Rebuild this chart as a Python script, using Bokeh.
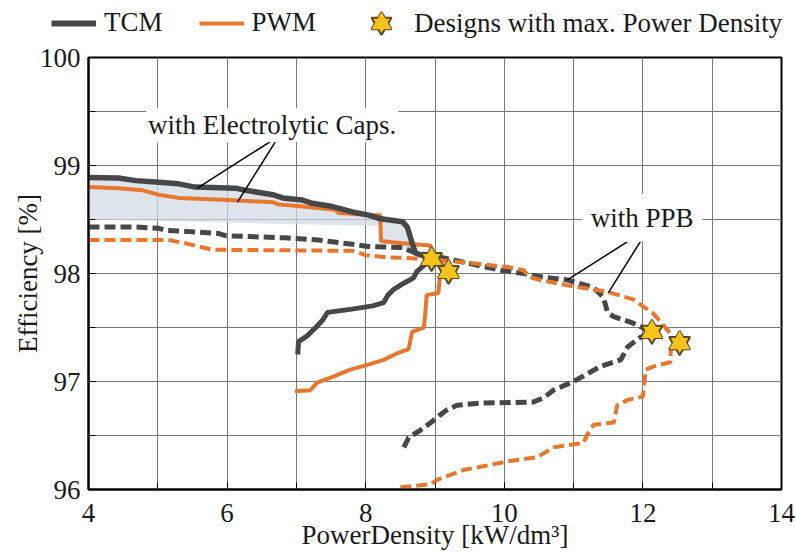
from bokeh.plotting import figure
from bokeh.models import FixedTicker, Label, Legend, LegendItem, Range1d
from bokeh.embed import file_html
from bokeh.resources import INLINE

FONT = "Liberation Serif"
TCM_COLOR = "#474747"
PWM_COLOR = "#e8772e"
STAR_FILL = "#f7c31c"
STAR_LINE = "#5a4a20"
TEXT_COLOR = "#1a1a1a"

# --- data: power density [kW/dm^3] vs efficiency [%] ---
# TCM, electrolytic capacitors (upper solid branch)
tcm_ec_x = [4.0, 4.43, 4.68, 4.92, 5.30, 5.54, 6.12, 6.27, 6.66, 6.80, 7.09, 7.23, 7.52,
            7.81, 8.04, 8.19, 8.53, 8.60, 8.68, 8.72, 8.95]
tcm_ec_y = [98.89, 98.885, 98.86, 98.85, 98.83, 98.80, 98.79, 98.77, 98.73, 98.70, 98.68,
            98.65, 98.62, 98.57, 98.54, 98.51, 98.48, 98.43, 98.26, 98.19, 98.134]
# TCM, electrolytic capacitors (lower solid branch)
tcm_ec_lo_x = [7.02, 7.03, 7.15, 7.28, 7.38, 7.45, 7.80, 8.10, 8.26, 8.32, 8.40, 8.55,
               8.69, 8.74, 8.95]
tcm_ec_lo_y = [97.25, 97.37, 97.42, 97.50, 97.57, 97.64, 97.67, 97.70, 97.73, 97.80,
               97.85, 97.91, 97.96, 98.02, 98.134]
# PWM, electrolytic capacitors (upper solid branch)
pwm_ec_x = [4.0, 4.43, 4.78, 5.01, 5.30, 6.02, 6.66, 6.74, 7.09, 7.56, 7.61, 8.14, 8.21,
            8.22, 8.53, 8.93, 8.98, 9.195]
pwm_ec_y = [98.80, 98.79, 98.77, 98.73, 98.70, 98.68, 98.66, 98.64, 98.62, 98.59, 98.56,
            98.54, 98.54, 98.30, 98.28, 98.26, 98.19, 98.014]
# PWM, electrolytic capacitors (lower solid branch)
pwm_ec_lo_x = [6.98, 7.20, 7.30, 7.55, 7.78, 8.00, 8.26, 8.45, 8.62, 8.65, 8.67, 8.84,
               8.86, 8.88, 9.05, 9.07, 9.195]
pwm_ec_lo_y = [96.91, 96.92, 96.99, 97.05, 97.11, 97.15, 97.20, 97.26, 97.30, 97.40,
               97.46, 97.50, 97.63, 97.80, 97.82, 97.97, 98.014]
# shaded band below the TCM electrolytic-capacitor curve
band_lo_x = [4.0, 8.20, 8.25, 8.72]
band_lo_y = [98.50, 98.44, 98.28, 98.19]

# TCM, power pulsation buffer (upper dashed branch)
tcm_ppb_x = [4.0, 4.68, 5.0, 5.11, 5.40, 5.88, 5.98, 6.84, 7.32, 7.81, 8.04, 8.53, 8.72,
             9.0, 9.30, 9.95, 10.28, 10.52, 10.91, 11.29, 11.43, 11.49, 11.58, 11.86, 12.13]
tcm_ppb_y = [98.43, 98.43, 98.42, 98.40, 98.39, 98.37, 98.35, 98.33, 98.31, 98.27, 98.25,
             98.24, 98.19, 98.16, 98.12, 98.03, 98.00, 97.97, 97.94, 97.87, 97.78, 97.64,
             97.60, 97.54, 97.46]
# TCM, power pulsation buffer (lower dashed branch)
tcm_ppb_lo_x = [8.55, 8.62, 8.79, 8.94, 9.03, 9.18, 9.32, 9.66, 10.42, 10.57, 10.71, 11.0,
                11.39, 11.68, 11.78, 11.94, 12.13]
tcm_ppb_lo_y = [96.39, 96.48, 96.55, 96.62, 96.67, 96.74, 96.78, 96.80, 96.81, 96.85,
                96.92, 97.00, 97.14, 97.20, 97.32, 97.40, 97.46]
# PWM, power pulsation buffer (upper dashed branch)
pwm_ppb_x = [4.0, 5.15, 5.40, 5.59, 5.79, 7.81, 8.0, 8.29, 8.72, 9.32, 10.05, 10.28, 10.35,
             10.52, 10.91, 11.49, 11.86, 12.15, 12.35, 12.44, 12.53]
pwm_ppb_y = [98.31, 98.31, 98.28, 98.25, 98.22, 98.21, 98.17, 98.15, 98.14, 98.11, 98.06,
             98.03, 97.97, 97.94, 97.89, 97.83, 97.76, 97.63, 97.48, 97.39, 97.355]
# PWM, power pulsation buffer (lower dashed branch)
pwm_ppb_lo_x = [8.50, 8.94, 9.03, 9.41, 10.05, 10.48, 10.71, 11.14, 11.20, 11.29, 11.58,
                11.63, 11.78, 12.0, 12.04, 12.16, 12.40, 12.40, 12.53]
pwm_ppb_lo_y = [96.02, 96.05, 96.09, 96.18, 96.26, 96.30, 96.39, 96.43, 96.51, 96.60,
                96.62, 96.78, 96.83, 96.86, 97.11, 97.14, 97.18, 97.29, 97.355]

# designs with maximum power density
star_x = [8.95, 9.195, 12.13, 12.53]
star_y = [98.134, 98.014, 97.46, 97.355]

x_ticks = [4, 6, 8, 10, 12, 14]
x_minor = [4, 5, 6, 7, 8, 9, 10, 11, 12, 13, 14]
y_ticks = [96, 97, 98, 99, 100]
y_minor = [96, 96.5, 97, 97.5, 98, 98.5, 99, 99.5, 100]

# annotation leader lines (label -> curve)
ec_lead_x0 = [6.63, 6.70]
ec_lead_y0 = [99.224, 99.224]
ec_lead_x1 = [5.57, 6.15]
ec_lead_y1 = [98.79, 98.66]
ppb_lead_x0 = [11.97, 12.04]
ppb_lead_y0 = [98.374, 98.374]
ppb_lead_x1 = [10.91, 11.50]
ppb_lead_y1 = [97.94, 97.82]

STAR_SIZE = 21
LEGEND_H = 44          # legend strip on top


def hexagram(fig, xs, ys, size):
    """Six-pointed star from two overlapping triangles, outlined on the outer edge only."""
    a = fig.scatter(xs, ys, marker="triangle", size=size, fill_color=STAR_FILL,
                    line_color=STAR_LINE, line_width=2)
    b = fig.scatter(xs, ys, marker="inverted_triangle", size=size, fill_color=STAR_FILL,
                    line_color=STAR_LINE, line_width=2)
    c = fig.scatter(xs, ys, marker="triangle", size=size, fill_color=STAR_FILL,
                    line_color=None)
    return [a, b, c]


# ---------------- main chart ----------------
p = figure(frame_width=693, frame_height=432,
           x_range=Range1d(4, 14), y_range=Range1d(96, 100),
           output_backend="svg", toolbar_location=None,
           min_border_left=88, min_border_right=15, min_border_top=57 - LEGEND_H,
           min_border_bottom=71)
p.background_fill_color = "white"
p.border_fill_color = "white"
p.outline_line_color = "black"
p.outline_line_width = 2

p.xaxis.ticker = FixedTicker(ticks=x_ticks, minor_ticks=x_minor)
p.yaxis.ticker = FixedTicker(ticks=y_ticks, minor_ticks=y_minor)
p.xgrid.ticker = FixedTicker(ticks=x_minor)
p.ygrid.ticker = FixedTicker(ticks=y_minor)
for g in (p.xgrid, p.ygrid):
    g.grid_line_color = "#787878"
    g.grid_line_width = 1

for ax in (p.xaxis, p.yaxis):
    ax.axis_line_color = "black"
    ax.axis_line_width = 2
    ax.major_tick_in = 7
    ax.major_tick_out = 0
    ax.minor_tick_in = 7
    ax.minor_tick_out = 0
    ax.major_tick_line_color = "black"
    ax.minor_tick_line_color = "black"
    ax.major_label_text_font = FONT
    ax.major_label_text_font_size = "27px"
    ax.major_label_text_color = TEXT_COLOR
    ax.axis_label_text_font = FONT
    ax.axis_label_text_font_size = "27px"
    ax.axis_label_text_font_style = "normal"
    ax.axis_label_text_color = TEXT_COLOR

p.xaxis.axis_label = "PowerDensity [kW/dm³]"
p.yaxis.axis_label = "Efficiency [%]"
p.xaxis.major_label_standoff = 14
p.yaxis.major_label_standoff = 8
p.xaxis.axis_label_standoff = -5
p.yaxis.axis_label_standoff = -6

# shaded band
p.patch(tcm_ec_x + band_lo_x[::-1], tcm_ec_y + band_lo_y[::-1],
        fill_color="#cfd8e4", fill_alpha=0.7, line_color=None)

# dashed curves (power pulsation buffer)
dash = "11 5"
p.line(tcm_ppb_x, tcm_ppb_y, line_color=TCM_COLOR, line_width=5, line_dash=dash)
p.line(tcm_ppb_lo_x, tcm_ppb_lo_y, line_color=TCM_COLOR, line_width=5, line_dash=dash)
p.line(pwm_ppb_x, pwm_ppb_y, line_color=PWM_COLOR, line_width=4, line_dash=dash)
p.line(pwm_ppb_lo_x, pwm_ppb_lo_y, line_color=PWM_COLOR, line_width=4, line_dash=dash)

# solid curves (electrolytic capacitors)
p.line(pwm_ec_x, pwm_ec_y, line_color=PWM_COLOR, line_width=4)
p.line(pwm_ec_lo_x, pwm_ec_lo_y, line_color=PWM_COLOR, line_width=4)
p.line(tcm_ec_x, tcm_ec_y, line_color=TCM_COLOR, line_width=5.5)
p.line(tcm_ec_lo_x, tcm_ec_lo_y, line_color=TCM_COLOR, line_width=5)

hexagram(p, star_x, star_y, STAR_SIZE)

# leader lines and labels
p.segment(ec_lead_x0, ec_lead_y0, ec_lead_x1, ec_lead_y1, line_color="black", line_width=1.5)
p.segment(ppb_lead_x0, ppb_lead_y0, ppb_lead_x1, ppb_lead_y1, line_color="black", line_width=1.5)

p.add_layout(Label(x=6.65, y=99.372, text="with Electrolytic Caps.", text_align="center",
                   text_baseline="middle", text_font=FONT, text_font_size="27px",
                   text_color=TEXT_COLOR, background_fill_color="white", padding=2))
p.add_layout(Label(x=11.99, y=98.513, text="with PPB", text_align="center",
                   text_baseline="middle", text_font=FONT, text_font_size="27px",
                   text_color=TEXT_COLOR, background_fill_color="white", padding=9))

# ---------------- legend strip above the chart ----------------
# the key renderers reuse the series data, which lies outside this strip's ranges,
# so only their legend entries are visible
lf = figure(width=796, height=LEGEND_H, x_axis_type=None, y_axis_type=None,
            x_range=Range1d(0, 1), y_range=Range1d(0, 1), title_location=None,
            output_backend="svg", toolbar_location=None, min_border=0)
lf.outline_line_color = None
lf.background_fill_color = "white"
lf.border_fill_color = "white"
k_tcm = lf.line(tcm_ec_x, tcm_ec_y, line_color=TCM_COLOR, line_width=6)
k_pwm = lf.line(pwm_ec_x, pwm_ec_y, line_color=PWM_COLOR, line_width=4)
k_star = hexagram(lf, star_x, star_y, STAR_SIZE)

common = dict(orientation="horizontal", border_line_color=None, background_fill_alpha=0,
              padding=0, margin=0, label_text_font=FONT, label_text_font_size="27px",
              label_text_color=TEXT_COLOR)
leg1 = Legend(items=[LegendItem(label="TCM", renderers=[k_tcm]),
                     LegendItem(label="PWM", renderers=[k_pwm])],
              location=(51, LEGEND_H - 38), glyph_width=45, glyph_height=30,
              label_height=30, label_standoff=8, spacing=36, **common)
leg2 = Legend(items=[LegendItem(label="Designs with max. Power Density", renderers=k_star)],
              location=(356, LEGEND_H - 48), glyph_width=50, glyph_height=50,
              label_height=30, label_standoff=8, spacing=0, **common)
lf.add_layout(leg1)
lf.add_layout(leg2)

open("out.html", "w").write(file_html([lf, p], INLINE))
